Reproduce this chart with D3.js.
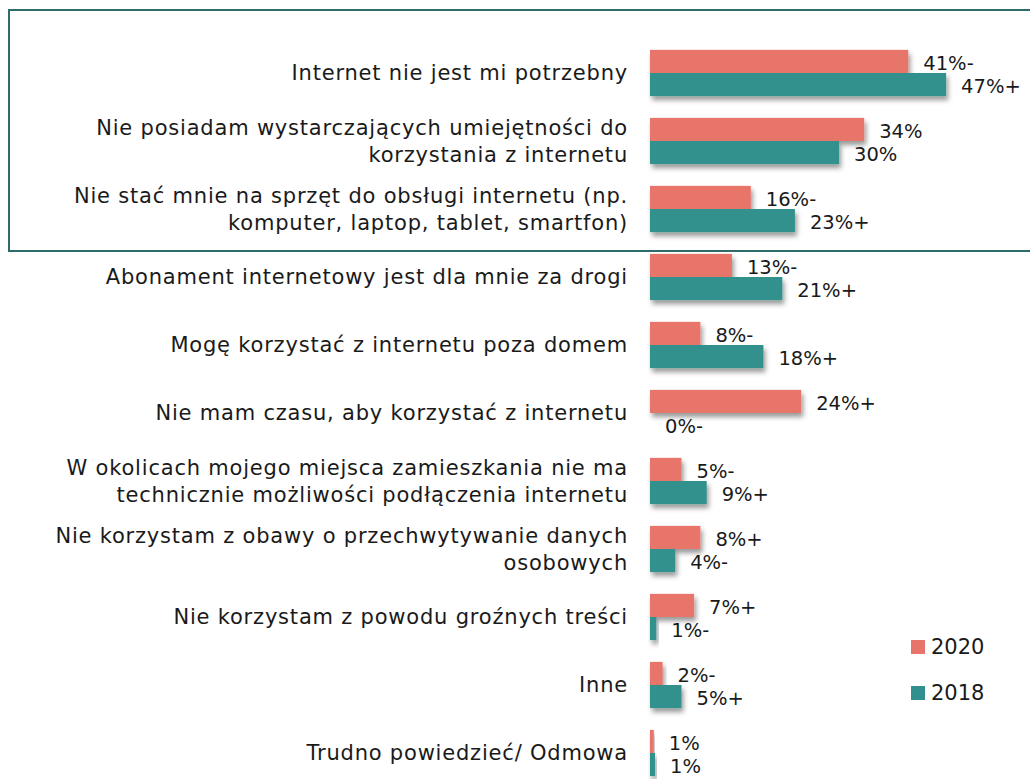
<!DOCTYPE html>
<html>
<head>
<meta charset="utf-8">
<script src="https://cdn.jsdelivr.net/npm/d3@7"></script>
<style>
  body { margin: 0; background: #fff; }
  svg { display: block; font-family: "Century Gothic", "DejaVu Sans", sans-serif; }
  .cat-label { font-size: 21px; letter-spacing: 0.8px; fill: #1a1a1a; }
  .val-label { font-size: 19.5px; fill: #1a1a1a; }
  .legend-label { font-size: 21px; fill: #1a1a1a; }
</style>
</head>
<body>
<svg id="chart"></svg>
<script>

// categories (multi-line labels split with |)
const categories = [
  'Internet nie jest mi potrzebny',
  'Nie posiadam wystarczających umiejętności do|korzystania z internetu',
  'Nie stać mnie na sprzęt do obsługi internetu (np.|komputer, laptop, tablet, smartfon)',
  'Abonament internetowy jest dla mnie za drogi',
  'Mogę korzystać z internetu poza domem',
  'Nie mam czasu, aby korzystać z internetu',
  'W okolicach mojego miejsca zamieszkania nie ma|technicznie możliwości podłączenia internetu',
  'Nie korzystam z obawy o przechwytywanie danych|osobowych',
  'Nie korzystam z powodu groźnych treści',
  'Inne',
  'Trudno powiedzieć/ Odmowa'
];

const seriesNames = ['2020', '2018'];

const values2020 = [41, 34, 16, 13, 8, 24, 5, 8, 7, 2, 0.6];
const values2018 = [47, 30, 23, 21, 18, 0, 9, 4, 1, 5, 0.8];

// significance markers shown after the value
const marks2020 = ['-', '', '-', '-', '-', '+', '-', '+', '+', '-', ''];
const marks2018 = ['+', '', '+', '+', '+', '-', '+', '-', '-', '+', ''];

const colors = ['#e8756b', '#31908d'];

class GroupedBars {

  constructor(_config) {
    this.config = {
      parentElement: _config.parentElement,
      containerWidth: _config.containerWidth || 1030,
      containerHeight: _config.containerHeight || 779
    };
    this.initVis();
  }

  initVis() {
    let vis = this;

    vis.svg = d3.select(vis.config.parentElement)
        .attr('width', vis.config.containerWidth)
        .attr('height', vis.config.containerHeight);

    // soft shadow under the bars
    const defs = vis.svg.append('defs');
    defs.append('filter')
        .attr('id', 'shadow')
        .attr('x', '-20%').attr('y', '-30%')
        .attr('width', '150%').attr('height', '180%')
      .append('feDropShadow')
        .attr('dx', 2)
        .attr('dy', 4)
        .attr('stdDeviation', 2.5)
        .attr('flood-color', '#000')
        .attr('flood-opacity', 0.4);

    // highlight box round the first three reasons
    vis.svg.append('rect')
        .attr('x', 9)
        .attr('y', 10)
        .attr('width', 1040)
        .attr('height', 241)
        .attr('fill', 'none')
        .attr('stroke', '#2f6b6a')
        .attr('stroke-width', 2);

    vis.yScale = d3.scaleBand()
        .domain(categories)
        .range([39, 787])
        .paddingInner(0.32)
        .paddingOuter(0.16);

    vis.ySub = d3.scaleBand()
        .domain(seriesNames)
        .range([0, vis.yScale.bandwidth()]);

    vis.xScale = d3.scaleLinear()
        .domain([0, 50])
        .range([650, 965]);

    vis.updateVis();
  }

  updateVis() {
    let vis = this;

    vis.data = categories.map((c, i) => ({
      category: c,
      series: [
        { name: '2020', value: values2020[i], mark: marks2020[i], color: colors[0] },
        { name: '2018', value: values2018[i], mark: marks2018[i], color: colors[1] }
      ]
    }));

    vis.renderVis();
  }

  renderVis() {
    let vis = this;
    const x0 = vis.xScale(0);

    // category labels, right aligned
    const cat = vis.svg.append('g').selectAll('text')
        .data(vis.data)
        .join('text')
        .attr('class', 'cat-label')
        .attr('text-anchor', 'end')
        .attr('x', 628)
        .attr('y', d => vis.yScale(d.category) + vis.yScale.bandwidth() / 2);

    cat.each(function(d) {
      const lines = d.category.split('|');
      const lh = 27;
      const start = -(lines.length - 1) * lh / 2;
      d3.select(this).selectAll('tspan')
        .data(lines)
        .join('tspan')
        .attr('x', 628)
        .attr('y', (l, j) => vis.yScale(d.category) + vis.yScale.bandwidth() / 2 + start + j * lh)
        .attr('dy', '0.35em')
        .text(l => l);
    });

    const groups = vis.svg.append('g').selectAll('g')
        .data(vis.data)
        .join('g')
        .attr('transform', d => `translate(0,${vis.yScale(d.category)})`);

    groups.selectAll('rect')
        .data(d => d.series)
        .join('rect')
        .attr('x', x0)
        .attr('y', d => vis.ySub(d.name))
        .attr('width', d => vis.xScale(d.value) - x0)
        .attr('height', vis.ySub.bandwidth())
        .attr('fill', d => d.color)
        .attr('filter', 'url(#shadow)');

    groups.selectAll('text')
        .data(d => d.series)
        .join('text')
        .attr('class', 'val-label')
        .attr('x', d => vis.xScale(d.value) + 15)
        .attr('y', d => vis.ySub(d.name) + vis.ySub.bandwidth() / 2 + 2)
        .attr('dy', '0.35em')
        .text(d => `${Math.round(d.value)}%${d.mark}`);

    // legend
    const legend = vis.svg.append('g').selectAll('g')
        .data(seriesNames)
        .join('g')
        .attr('transform', (d, i) => `translate(911,${640 + i * 46})`);

    legend.append('rect')
        .attr('width', 14)
        .attr('height', 14)
        .attr('fill', (d, i) => colors[i]);

    legend.append('text')
        .attr('class', 'legend-label')
        .attr('x', 20)
        .attr('y', 7)
        .attr('dy', '0.35em')
        .text(d => d);
  }
}

const chart = new GroupedBars({ parentElement: '#chart', containerWidth: 1030, containerHeight: 779 });

</script>
</body>
</html>
